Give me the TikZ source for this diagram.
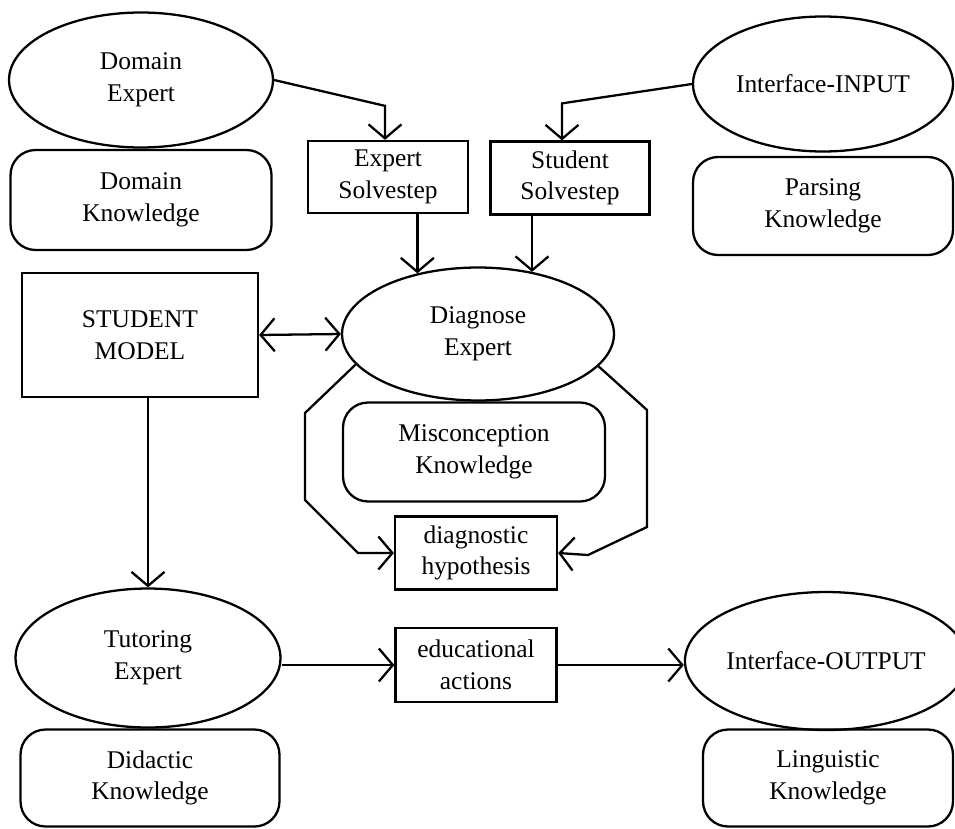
\documentclass[tikz,border=0pt]{standalone}
\usepackage{fontspec}
\setmainfont{Liberation Serif}
\usetikzlibrary{shapes.geometric,arrows.meta,calc}

\begin{document}
\begin{tikzpicture}[x=0.02cm,y=-0.02cm,line width=1.3pt,
    font=\fontsize{14.5}{18}\selectfont,
    expert/.style={draw,ellipse,inner sep=0pt,align=center},
    know/.style={draw,rounded corners=0.5cm,inner sep=0pt,align=center},
    data/.style={draw,inner sep=0pt,align=center},
    arr/.style={-{Straight Barb[length=0.28cm,width=0.66cm]}},
    darr/.style={{Straight Barb[length=0.28cm,width=0.66cm]}-{Straight Barb[length=0.28cm,width=0.66cm]}}]
\useasboundingbox (0,0) rectangle (955,828);
% experts and their knowledge
\node[expert,minimum width=5.28cm,minimum height=2.7cm] (dexp) at (141,80) {Domain\\Expert};
\node[know,minimum width=5.22cm,minimum height=2cm] (dknow) at (141,200) {Domain\\Knowledge};
\node[expert,minimum width=5.2cm,minimum height=2.7cm] (iin) at (823,84) {Interface-INPUT};
\node[know,minimum width=5.2cm,minimum height=1.96cm] (pknow) at (823,206) {Parsing\\Knowledge};
\node[data,minimum width=3.2cm,minimum height=1.44cm] (esolve) at (388,177) {Expert\\Solvestep};
\node[data,minimum width=3.18cm,minimum height=1.46cm] (ssolve) at (570,178) {Student\\Solvestep};
\node[data,minimum width=4.72cm,minimum height=2.48cm] (smodel) at (140,335) {STUDENT\\MODEL};
\node[expert,minimum width=5.44cm,minimum height=2.66cm] (diag) at (478,334) {Diagnose\\Expert};
\node[know,minimum width=5.24cm,minimum height=1.98cm] (mknow) at (474,452) {Misconception\\Knowledge};
\node[data,minimum width=3.24cm,minimum height=1.46cm] (hyp) at (476,553) {diagnostic\\hypothesis};
\node[expert,minimum width=5.3cm,minimum height=2.78cm] (tut) at (148,658) {Tutoring\\Expert};
\node[know,minimum width=5.18cm,minimum height=1.94cm] (didknow) at (150,778) {Didactic\\Knowledge};
\node[data,minimum width=3.22cm,minimum height=1.48cm] (edu) at (476,665) {educational\\actions};
\node[expert,minimum width=5.1cm,minimum height=2.76cm] (iout) at (826,661) {Interface-OUTPUT};
\node[know,minimum width=5cm,minimum height=1.94cm] (lknow) at (828,778) {Linguistic\\Knowledge};
% connections
\draw[arr] (dexp.east) -- ($(esolve.north)+(-3,-34)$) -- ($(esolve.north)+(-3,0)$);
\draw[arr] (iin.west) -- ($(ssolve.north)+(-8,-37)$) -- ($(ssolve.north)+(-8,0)$);
\draw[arr] (diag.135 |- esolve.south) -- (diag.135);
\draw[arr] (diag.49 |- ssolve.south) -- (diag.49);
\draw[darr] (smodel.east) -- (diag.west);
\draw[arr] (diag.194) -- (305,413) -- (305,500) -- (358,553) -- (hyp.west);
\draw[arr] (diag.-15) -- (647,410) -- (647,527) -- (588,555) -- (hyp.east);
\draw[arr] (smodel.south -| tut.north) -- (tut.north);
\draw[arr] (edu.west -| tut.east) -- (edu.west);
\draw[arr] (edu.east) -- (edu.east -| iout.west);
\end{tikzpicture}
\end{document}
